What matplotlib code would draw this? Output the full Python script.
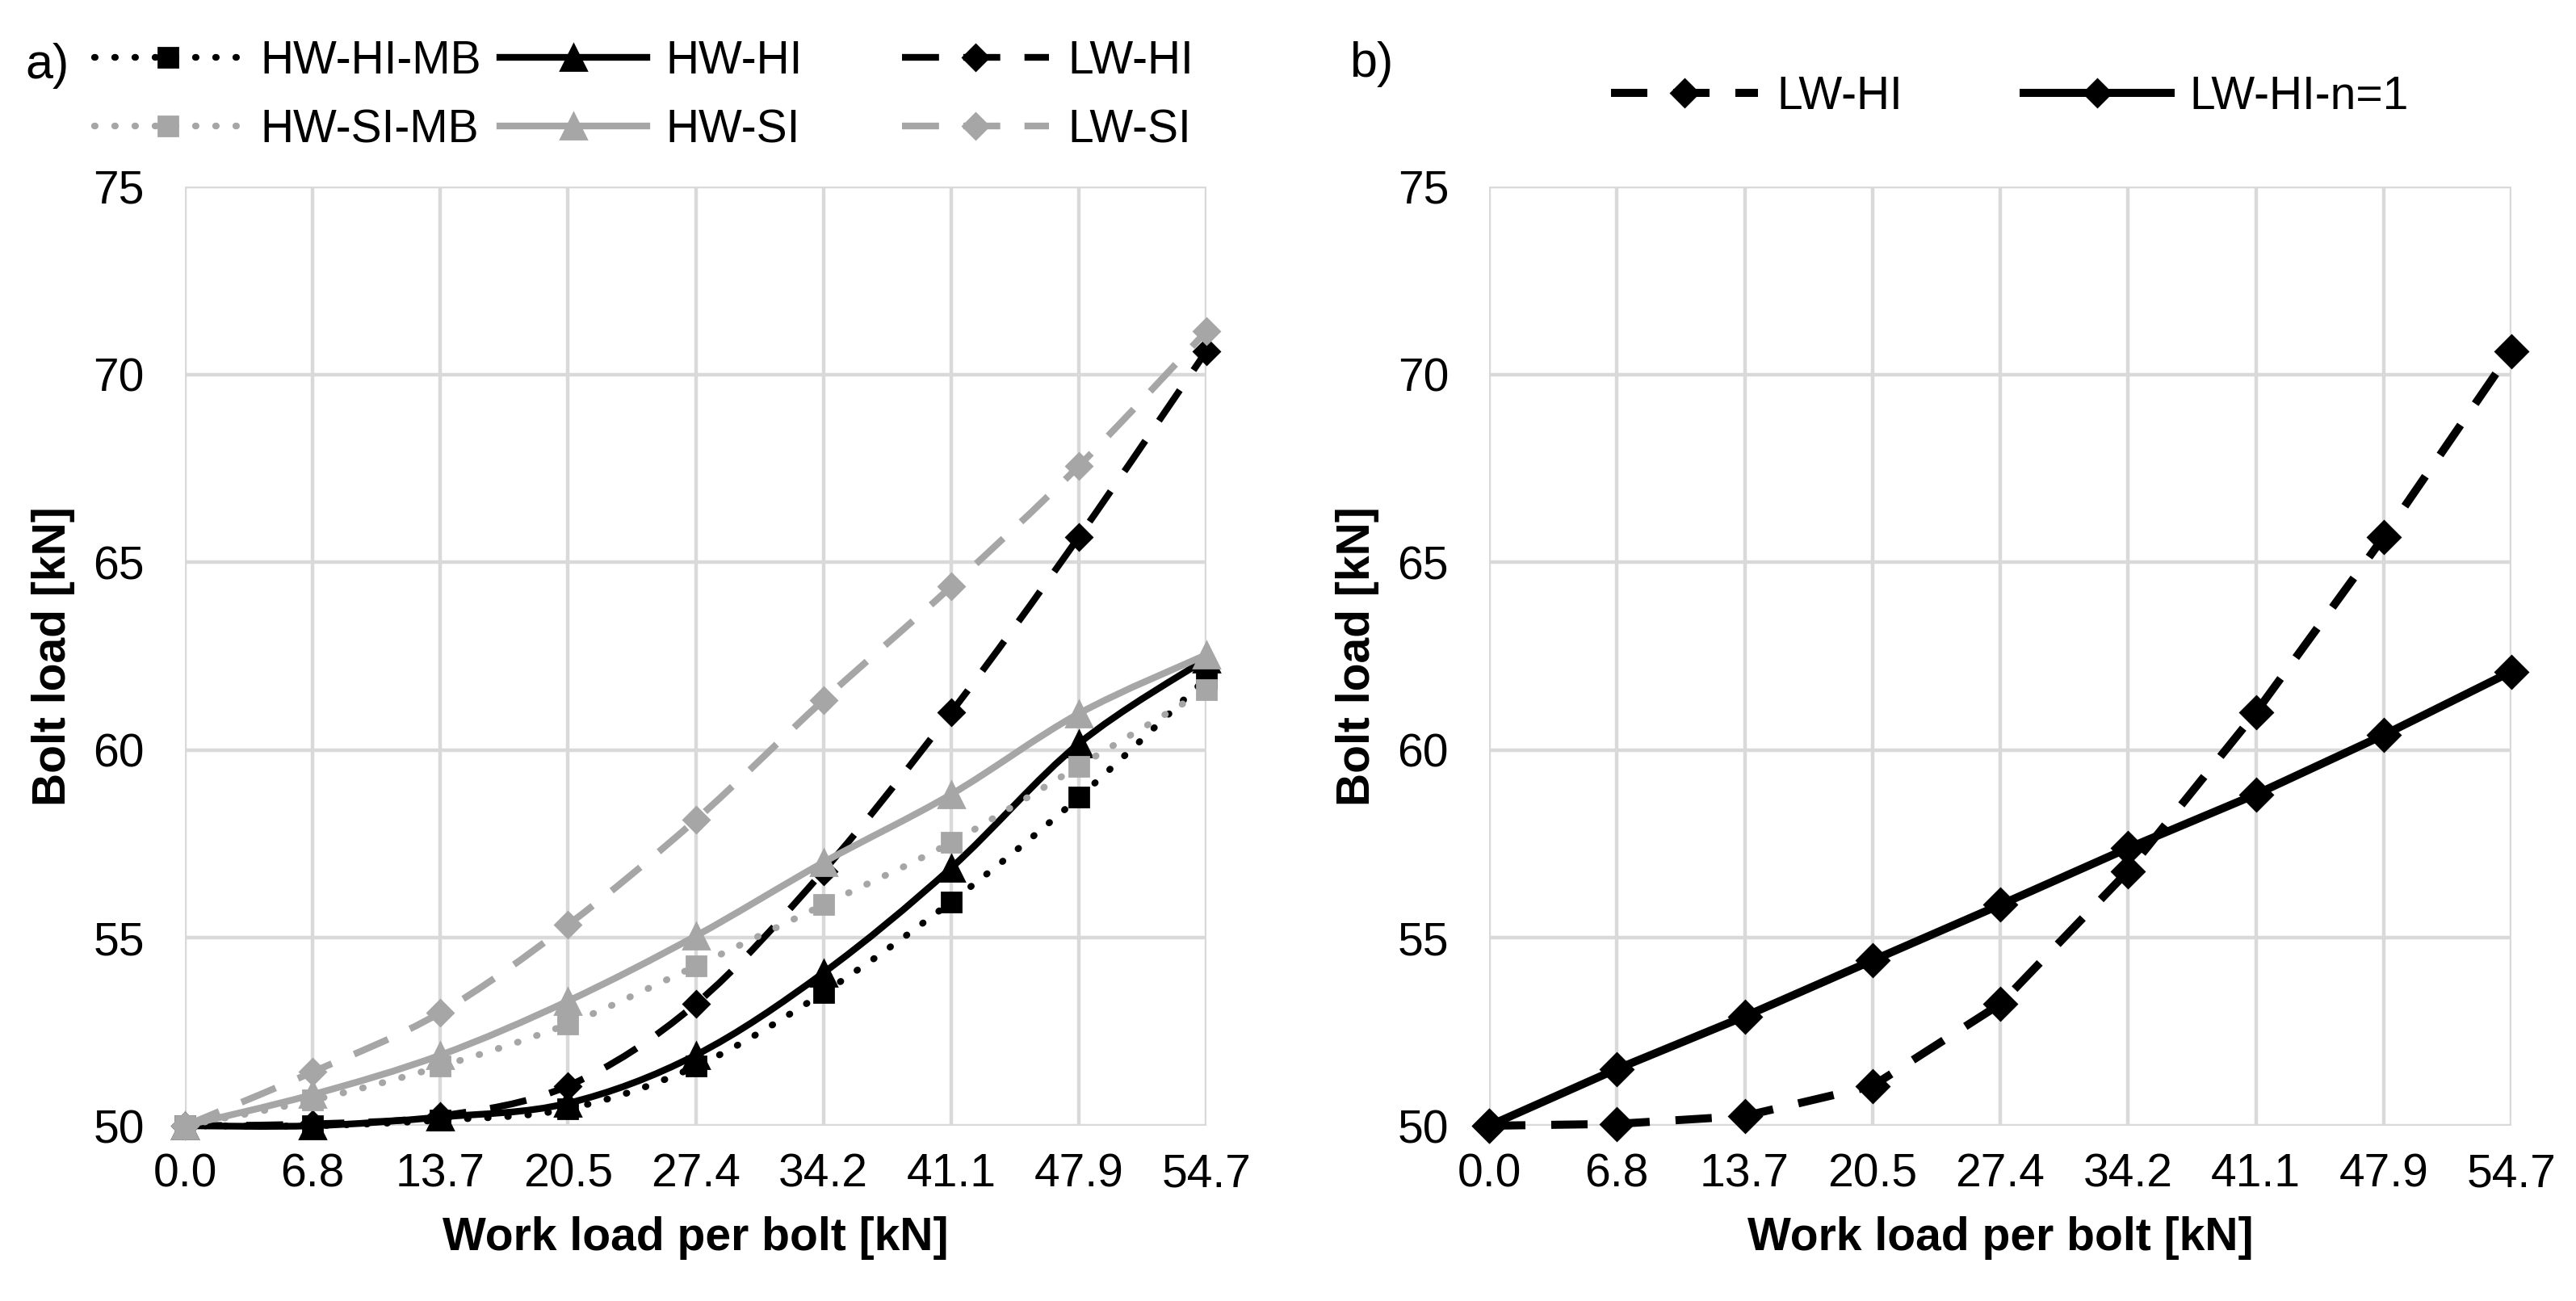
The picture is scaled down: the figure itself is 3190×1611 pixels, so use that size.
import numpy as np
import matplotlib.pyplot as plt
from matplotlib.path import Path
from matplotlib.patches import PathPatch
from matplotlib.lines import Line2D

plt.rcParams['font.family'] = ['Liberation Sans', 'DejaVu Sans']

# Datos (carga de trabajo por perno vs carga en el perno)
work_load = ['0.0', '6.8', '13.7', '20.5', '27.4', '34.2', '41.1', '47.9', '54.7']
y_ticks = [50, 55, 60, 65, 70, 75]

hw_hi_mb = [50.0, 50.0, 50.15, 50.45, 51.58, 53.54, 55.96, 58.74, 61.91]
hw_hi = [50.0, 50.0, 50.23, 50.6, 51.88, 54.07, 56.86, 60.17, 62.43]
lw_hi = [50.0, 50.05, 50.26, 51.06, 53.24, 56.78, 61.0, 65.67, 70.62]
hw_si_mb = [50.0, 50.68, 51.58, 52.71, 54.25, 55.88, 57.54, 59.57, 61.61]
hw_si = [50.0, 50.83, 51.88, 53.32, 55.05, 57.01, 58.82, 60.97, 62.54]
lw_si = [50.0, 51.43, 53.01, 55.35, 58.14, 61.33, 64.35, 67.56, 71.15]
lw_hi_n1 = [50.0, 51.51, 52.91, 54.4, 55.88, 57.39, 58.82, 60.4, 62.09]

W, H = 3190, 1611
FS = 20.5
BLACK = '#000000'
GRAY = '#a6a6a6'
DOT = (0, (0.1, 2.9))
DASH_A = (0, (5.5, 3.6))
DASH_B = (0, (4.5, 3.2))


def smooth_path(x, y):
    # curva suavizada tipo Excel (Bezier con puntos de control 1/6)
    pts = np.column_stack([x, y]).astype(float)
    ext = np.vstack([pts[0], pts, pts[-1]])
    verts = [pts[0]]
    codes = [Path.MOVETO]
    for i in range(len(pts) - 1):
        p0, p1, p2, p3 = ext[i], ext[i + 1], ext[i + 2], ext[i + 3]
        verts += [p1 + (p2 - p0) / 6, p2 - (p3 - p1) / 6, p2]
        codes += [Path.CURVE4] * 3
    return Path(verts, codes)


def style_axes(ax):
    ax.set_xlim(0, 8)
    ax.set_ylim(50, 75)
    ax.set_xticks(range(len(work_load)))
    ax.set_xticklabels(work_load)
    ax.set_yticks(y_ticks)
    ax.grid(True, color='#d9d9d9', lw=1.6)
    ax.set_axisbelow(True)
    for s in ax.spines.values():
        s.set_visible(False)
    ax.tick_params(length=0, labelsize=FS)
    ax.tick_params(axis='x', pad=12)
    ax.tick_params(axis='y', pad=18)
    ax.set_xlabel('Work load per bolt [kN]', fontsize=FS, fontweight='bold', labelpad=9)
    ax.set_ylabel('Bolt load [kN]', fontsize=FS, fontweight='bold', labelpad=8)


fig = plt.figure(figsize=(W / 200, H / 200), dpi=200)
ax1 = fig.add_axes([229 / W, 1 - 1394 / H, 1265 / W, 1163 / H])
ax2 = fig.add_axes([1844 / W, 1 - 1394 / H, 1266 / W, 1163 / H])
style_axes(ax1)
style_axes(ax2)

xs = np.arange(len(work_load))

# Panel a) lineas suavizadas
series_a = [
    ('HW-HI-MB', hw_hi_mb, BLACK, DOT, 's', 8.6),
    ('HW-HI', hw_hi, BLACK, '-', '^', 11.5),
    ('LW-HI', lw_hi, BLACK, DASH_A, 'D', 8.3),
    ('HW-SI-MB', hw_si_mb, GRAY, DOT, 's', 8.6),
    ('HW-SI', hw_si, GRAY, '-', '^', 11.5),
    ('LW-SI', lw_si, GRAY, DASH_A, 'D', 8.3),
]
lw_a = 3.0
handles_a = []
for k, (name, vals, col, ls, mk, ms) in enumerate(series_a):
    cap = 'round' if ls == DOT else 'butt'
    patch = PathPatch(smooth_path(xs, vals), fill=False, edgecolor=col, lw=lw_a,
                      linestyle=ls, capstyle=cap, joinstyle='round', zorder=3 + k, clip_on=False)
    ax1.add_patch(patch)
    ax1.plot(xs, vals, linestyle='none', marker=mk, ms=ms, color=col, zorder=3 + k, clip_on=False)
    handles_a.append(Line2D([], [], color=col, lw=lw_a, linestyle=ls, dash_capstyle=cap,
                            marker=mk, ms=ms, label=name))

# Panel b) lineas rectas
lw_b = 3.6
series_b = [
    ('LW-HI', lw_hi, DASH_B),
    ('LW-HI-n=1', lw_hi_n1, '-'),
]
handles_b = []
for k, (name, vals, ls) in enumerate(series_b):
    ax2.plot(xs, vals, color=BLACK, lw=lw_b, linestyle=ls, marker='D', ms=10.2,
             zorder=3 + k, clip_on=False)
    handles_b.append(Line2D([], [], color=BLACK, lw=lw_b, linestyle=ls, marker='D', ms=8.5, label=name))

legend_kw = dict(loc='center left', frameon=False, borderpad=0, borderaxespad=0,
                 handlelength=3.2, handletextpad=0.4, labelspacing=0.55, fontsize=FS)
# leyenda de a) en tres columnas de igual ancho
for col_i, x_px in enumerate([117, 619, 1117]):
    hs = [handles_a[col_i], handles_a[col_i + 3]]
    fig.legend(handles=hs, bbox_to_anchor=(x_px / W, 1 - 118.5 / H), **legend_kw)
for col_i, x_px in enumerate([1995, 2506]):
    fig.legend(handles=[handles_b[col_i]], bbox_to_anchor=(x_px / W, 1 - 120 / H), **legend_kw)

fig.text(31 / W, 1 - 82 / H, 'a)', fontsize=22, va='center', ha='left')
fig.text(1671 / W, 1 - 80 / H, 'b)', fontsize=22, va='center', ha='left')

fig.savefig('out.png', dpi=200)
